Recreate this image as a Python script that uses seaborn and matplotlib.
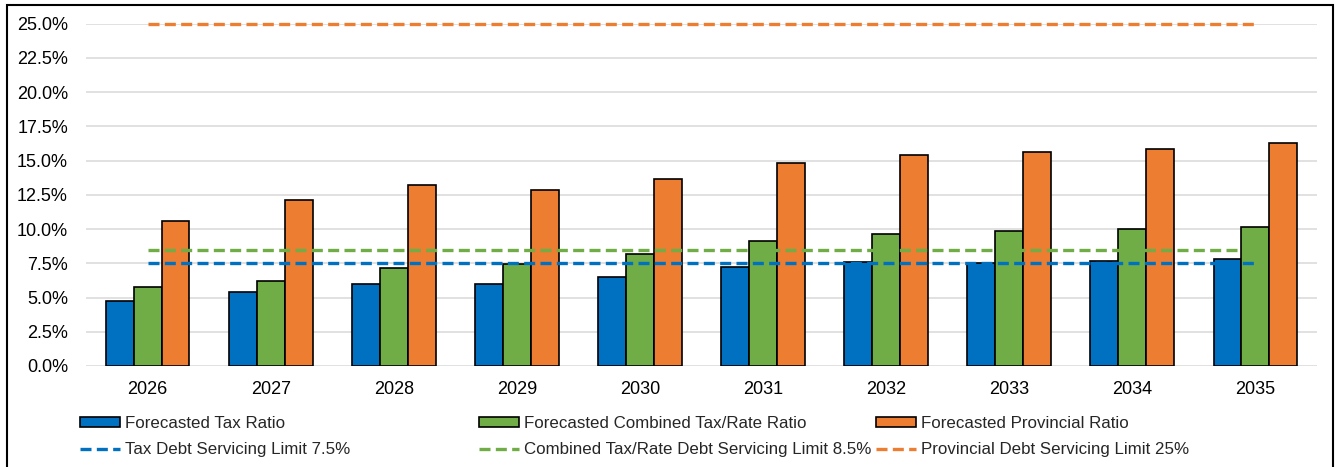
import numpy as np
import pandas as pd
import matplotlib
matplotlib.use("Agg")
import matplotlib.pyplot as plt
from matplotlib.patches import Patch, Rectangle
from matplotlib.lines import Line2D
from matplotlib.ticker import FuncFormatter, MultipleLocator
import seaborn as sns

# Forecast years and debt servicing ratios (percent)
years = ["2026", "2027", "2028", "2029", "2030", "2031", "2032", "2033", "2034", "2035"]
tax_ratio = [4.74, 5.37, 5.98, 5.98, 6.52, 7.22, 7.56, 7.51, 7.64, 7.81]
combined_ratio = [5.76, 6.23, 7.15, 7.44, 8.17, 9.10, 9.63, 9.85, 9.97, 10.17]
provincial_ratio = [10.60, 12.16, 13.23, 12.86, 13.67, 14.79, 15.39, 15.66, 15.88, 16.32]

# Debt servicing limits (percent)
tax_limit = 7.5
combined_limit = 8.5
provincial_limit = 25.0

bar_labels = ["Forecasted Tax Ratio", "Forecasted Combined Tax/Rate Ratio",
              "Forecasted Provincial Ratio"]
line_labels = ["Tax Debt Servicing Limit 7.5%",
               "Combined Tax/Rate Debt Servicing Limit 8.5%",
               "Provincial Debt Servicing Limit 25%"]
colors = ["#0070C0", "#70AD47", "#ED7D31"]

sns.set_theme(style="white")
plt.rcParams["font.family"] = ["Liberation Sans", "DejaVu Sans"]

df = pd.DataFrame({
    "Year": years * 3,
    "Ratio": tax_ratio + combined_ratio + provincial_ratio,
    "Series": [bar_labels[0]] * len(years) + [bar_labels[1]] * len(years)
              + [bar_labels[2]] * len(years),
})

W, H = 1338, 467
fig = plt.figure(figsize=(W / 100, H / 100), dpi=100)
ax = fig.add_axes([86 / W, (H - 366) / H, (1317 - 86) / W, (366 - 23.7) / H])

sns.barplot(data=df, x="Year", y="Ratio", hue="Series", hue_order=bar_labels,
            palette=colors, saturation=1, width=0.68, gap=0, errorbar=None,
            edgecolor="black", linewidth=1.2, legend=False, ax=ax, zorder=2)

dash = (3.3, 1.6)
xpos = np.arange(len(years))
for lim, c in zip([tax_limit, combined_limit, provincial_limit], colors):
    ax.plot(xpos, np.full(len(years), lim), color=c, lw=2.4, dashes=dash,
            zorder=3, clip_on=False)

ax.set_xlim(-0.5, len(years) - 0.5)
ax.set_ylim(0, 25)
ax.yaxis.set_major_locator(MultipleLocator(2.5))
ax.yaxis.set_major_formatter(FuncFormatter(lambda v, p: f"{v:.1f}%"))
ax.grid(axis="y", color="#D9D9D9", lw=1.1, zorder=0)
ax.grid(axis="x", visible=False)
ax.set_axisbelow(True)
for s in ax.spines.values():
    s.set_visible(False)
ax.tick_params(axis="both", length=0, labelsize=13, colors="black")
ax.tick_params(axis="y", pad=13)
ax.tick_params(axis="x", pad=11)
ax.set_xlabel("")
ax.set_ylabel("")

# Legend: one column per series pair
col_x = [80, 479, 876]
for i in range(3):
    handles = [
        Patch(facecolor=colors[i], edgecolor="black", lw=1.2),
        Line2D([0], [0], color=colors[i], lw=2.4, dashes=dash),
    ]
    fig.legend(handles, [bar_labels[i], line_labels[i]], loc="upper left",
               bbox_to_anchor=(col_x[i] / W, (H - 416) / H), frameon=False,
               fontsize=12.2, borderpad=0, borderaxespad=0, handlelength=2.35,
               handleheight=0.53, handletextpad=0.3, labelspacing=0.66)

fig.add_artist(Rectangle((7 / W, -0.1), (1333 - 7) / W, (H - 5) / H + 0.1,
                         transform=fig.transFigure, fill=False,
                         edgecolor="black", lw=1.5))

fig.savefig("out.png", dpi=100)
